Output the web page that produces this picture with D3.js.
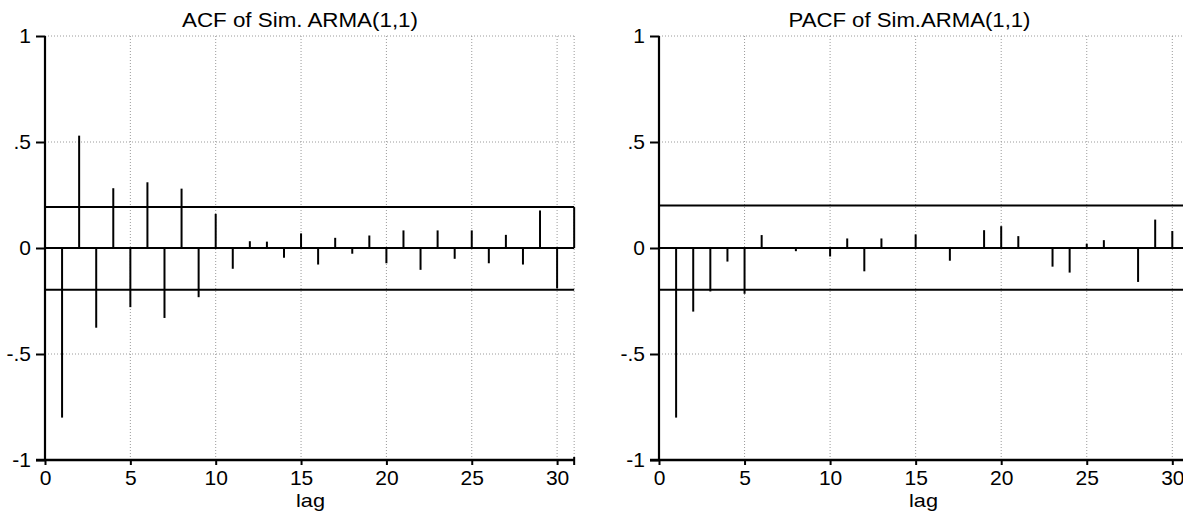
<!DOCTYPE html>
<html>
<head>
<meta charset="utf-8">
<script src="https://cdn.jsdelivr.net/npm/d3@7"></script>
<style>
  html, body { margin: 0; padding: 0; background: #fff; }
  svg { display: block; }
  text { font-family: "Liberation Sans", Arial, sans-serif; fill: #000; }
</style>
</head>
<body>
<svg id="chart" width="1183" height="514"></svg>
<script>
// ---- data ----
const acfLags = d3.range(0, 31);
const acfValues = [1.00, -0.80, 0.53, -0.376, 0.282, -0.279, 0.31, -0.33, 0.28, -0.232,
  0.161, -0.098, 0.032, 0.03, -0.046, 0.069, -0.078, 0.048, -0.027, 0.059,
  -0.072, 0.083, -0.103, 0.083, -0.051, 0.083, -0.072, 0.062, -0.078, 0.177, -0.19];
const acfBand = [0.193, -0.197];

const pacfLags = d3.range(1, 31);
const pacfValues = [-0.80, -0.30, -0.205, -0.064, -0.216, 0.061, 0.004, -0.015, 0.003, -0.04,
  0.045, -0.11, 0.045, 0.003, 0.064, 0.003, -0.06, 0.003, 0.084, 0.103,
  0.056, 0.004, -0.088, -0.116, 0.02, 0.037, 0.003, -0.16, 0.134, 0.08];
const pacfBand = [0.201, -0.197];

const xTicks = [0, 5, 10, 15, 20, 25, 30];
const yTicks = [1, 0.5, 0, -0.5, -1];
const yTickLabels = ["1", ".5", "0", "-.5", "-1"];
const titles = ["ACF of Sim. ARMA(1,1)", "PACF of Sim.ARMA(1,1)"];
const xLabel = "lag";

// ---- drawing ----
const svg = d3.select("#chart");

function drawPanel(cfg) {
  const x = d3.scaleLinear().domain([0, 31]).range([cfg.x0, cfg.x0 + 31 * cfg.step]);
  const y = d3.scaleLinear().domain([-1, 1]).range([460, 36]);
  const g = svg.append("g");

  // dotted grid
  const grid = g.append("g").attr("stroke", "#9a9a9a").attr("stroke-width", 1)
    .attr("stroke-dasharray", "1,2");
  [1, 0.5, -0.5].forEach(v => {
    grid.append("line").attr("x1", x(0)).attr("x2", x(31)).attr("y1", y(v)).attr("y2", y(v));
  });
  [5, 10, 15, 20, 25, 30, 31].forEach(v => {
    grid.append("line").attr("x1", x(v)).attr("x2", x(v)).attr("y1", y(1)).attr("y2", y(-1));
  });

  // confidence band
  g.append("line").attr("x1", x(0)).attr("x2", x(31))
    .attr("y1", y(cfg.band[0])).attr("y2", y(cfg.band[0]))
    .attr("stroke", "#000").attr("stroke-width", 2);
  g.append("line").attr("x1", x(0)).attr("x2", x(31))
    .attr("y1", y(cfg.band[1])).attr("y2", y(cfg.band[1]))
    .attr("stroke", "#000").attr("stroke-width", 2);
  g.append("line").attr("x1", x(31)).attr("x2", x(31))
    .attr("y1", y(cfg.band[0])).attr("y2", y(0))
    .attr("stroke", "#000").attr("stroke-width", 2);

  // zero line
  g.append("line").attr("x1", x(0)).attr("x2", x(31)).attr("y1", y(0)).attr("y2", y(0))
    .attr("stroke", "#000").attr("stroke-width", 2);

  // spikes
  g.selectAll("line.spike").data(cfg.lags.map((l, i) => [l, cfg.values[i]]))
    .enter().append("line").attr("class", "spike")
    .attr("x1", d => x(d[0])).attr("x2", d => x(d[0]))
    .attr("y1", y(0)).attr("y2", d => y(d[1]))
    .attr("stroke", "#000").attr("stroke-width", 2);

  // y axis
  const yAxis = d3.axisLeft(y).tickValues(yTicks).tickSize(9).tickPadding(5)
    .tickFormat((d, i) => yTickLabels[i]);
  const ya = g.append("g").attr("transform", `translate(${x(0)},0)`).call(yAxis);
  ya.select(".domain").attr("stroke", "#000").attr("stroke-width", 2.2)
    .attr("d", `M0,${y(1)}V${y(-1)}`);
  ya.selectAll(".tick line").attr("stroke", "#000").attr("stroke-width", 2);
  ya.selectAll(".tick text").style("font-size", "21px").attr("font-family", "Liberation Sans, Arial, sans-serif");

  // x axis
  const xAxis = d3.axisBottom(x).tickValues(xTicks).tickSize(5).tickPadding(5)
    .tickFormat(d3.format("d"));
  const xa = g.append("g").attr("transform", `translate(0,${y(-1)})`).call(xAxis);
  xa.select(".domain").attr("stroke", "#000").attr("stroke-width", 2.6)
    .attr("d", `M${x(0) - 9},0H${x(31)}`);
  xa.selectAll(".tick line").attr("stroke", "#000").attr("stroke-width", 2);
  xa.selectAll(".tick text").style("font-size", "21px").attr("font-family", "Liberation Sans, Arial, sans-serif");
  xa.append("line").attr("x1", x(31)).attr("x2", x(31)).attr("y1", -3).attr("y2", 5)
    .attr("stroke", "#000").attr("stroke-width", 2);

  // title
  g.append("text").attr("x", cfg.titleX).attr("y", 27).attr("text-anchor", "middle")
    .attr("textLength", cfg.titleW).attr("lengthAdjust", "spacingAndGlyphs")
    .style("font-size", "20px").text(cfg.title);
  // x label
  g.append("text").attr("x", cfg.labelX).attr("y", 507).attr("text-anchor", "middle")
    .attr("textLength", 29).attr("lengthAdjust", "spacingAndGlyphs")
    .style("font-size", "18.5px").text(xLabel);
}

drawPanel({ x0: 45, step: 17.07, lags: acfLags, values: acfValues, band: acfBand,
  title: titles[0], titleX: 300, titleW: 236, labelX: 310.5 });
drawPanel({ x0: 659, step: 17.11, lags: pacfLags, values: pacfValues, band: pacfBand,
  title: titles[1], titleX: 909.5, titleW: 242, labelX: 923.5 });
</script>
</body>
</html>
